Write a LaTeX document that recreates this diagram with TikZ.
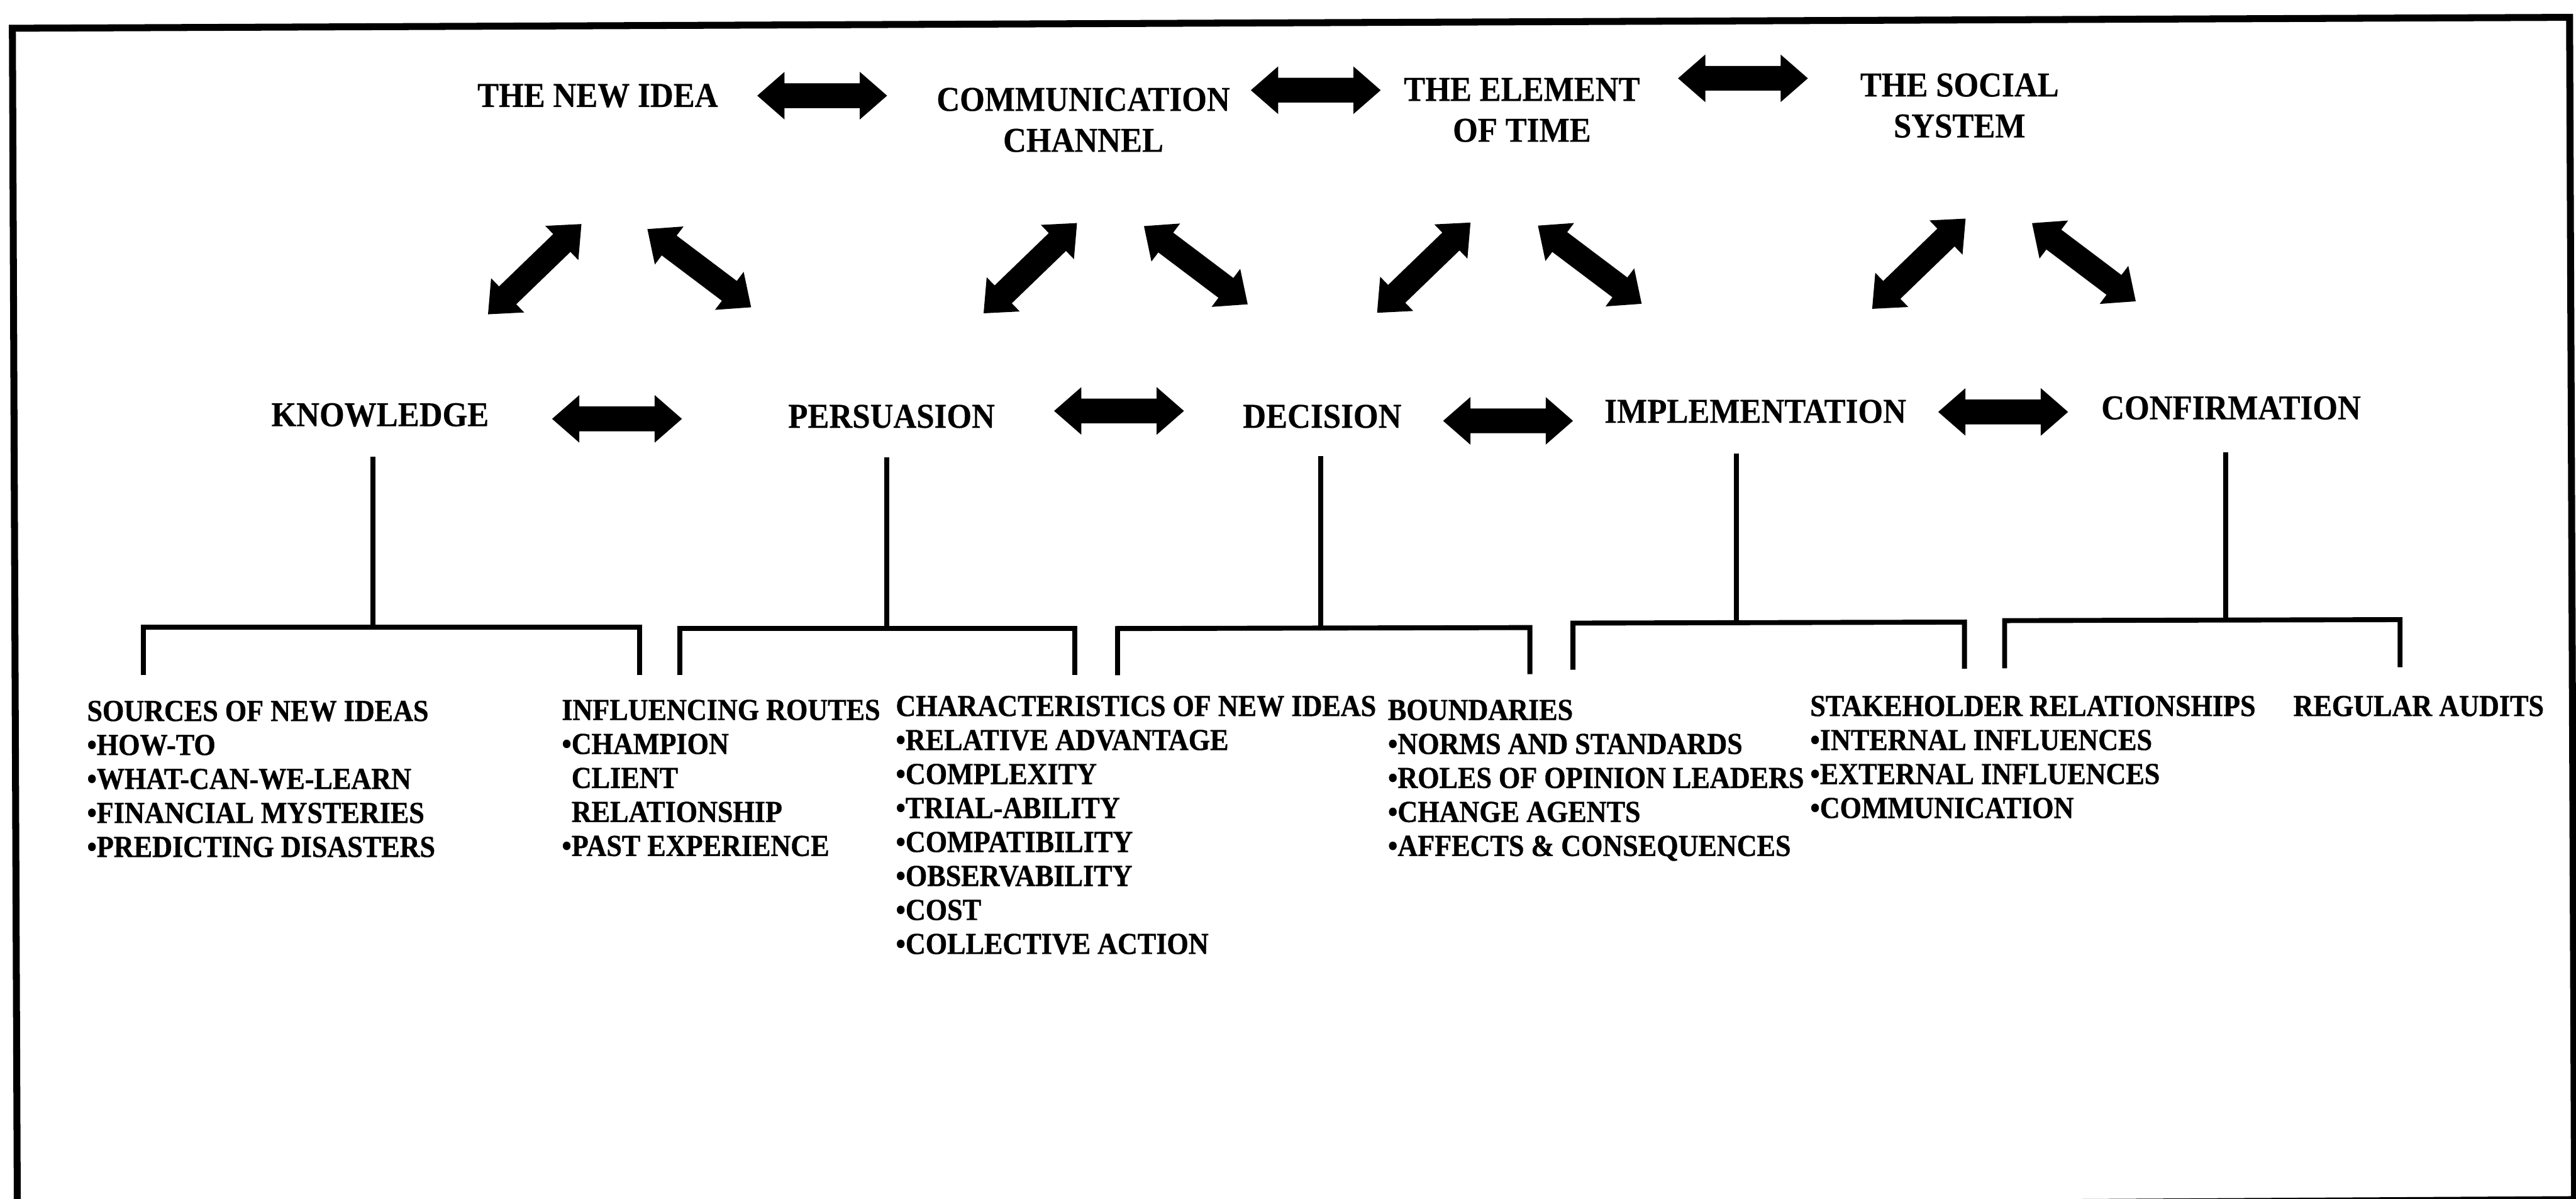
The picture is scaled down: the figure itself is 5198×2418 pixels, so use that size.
\documentclass[tikz,border=0pt]{standalone}
\usepackage{fontspec}
\setmainfont{Liberation Serif}
\newfontfamily\labelfont[FakeStretch=0.92,FakeBold=0.3]{Liberation Serif}
\newfontfamily\listfont[FakeStretch=0.91,FakeBold=0.8]{Liberation Serif}
\begin{document}
\begin{tikzpicture}[x=0.01cm,y=-0.01cm,
  stage/.style={font=\labelfont\bfseries\fontsize{20}{23.5}\selectfont, align=center, inner sep=0pt},
  itemlist/.style={font=\listfont\bfseries\fontsize{17.5}{19.5}\selectfont, align=left, anchor=north west, inner sep=0pt},
  bline/.style={line width=0.1cm, line join=miter},
  frameline/.style={line width=0.14cm, line join=miter},
  dblarrow/.pic={
    \fill[black] (-131,0) -- (-76,48) -- (-76,25) -- (76,25) -- (76,48) -- (131,0)
      -- (76,-48) -- (76,-25) -- (-76,-25) -- (-76,-48) -- cycle;
  }]
\useasboundingbox (0,0) rectangle (5198,2418);
\fill[white] (0,0) rectangle (5198,2418);

% outer frame (slightly skewed, bottom edge mostly below the page)
\draw[frameline] (25,57) -- (5185,35) -- (5195,2420) -- (35,2450) -- cycle;

% elements of diffusion
\node[stage] (newidea) at (1206,193) {THE NEW IDEA};
\node[stage] (comm)    at (2186,242) {COMMUNICATION\\CHANNEL};
\node[stage] (time)    at (3071,222) {THE ELEMENT\\OF TIME};
\node[stage] (social)  at (3954,213) {THE SOCIAL\\SYSTEM};

% stages of the decision process
\node[stage] (know) at (767,837)  {KNOWLEDGE};
\node[stage] (pers) at (1799,840) {PERSUASION};
\node[stage] (deci) at (2668,840) {DECISION};
\node[stage] (impl) at (3542,830) {IMPLEMENTATION};
\node[stage] (conf) at (4502,823) {CONFIRMATION};

% block arrows between the elements
\pic (aTop1) at (1659,193) {dblarrow};
\pic (aTop2) at (2655,182) {dblarrow};
\pic (aTop3) at (3517,158) {dblarrow};

% block arrows between the stages
\pic (aMid1) at (1245,845) {dblarrow};
\pic (aMid2) at (2258,829) {dblarrow};
\pic (aMid3) at (3043,849) {dblarrow};
\pic (aMid4) at (4042,831) {dblarrow};

% slanted block arrows under each element
\pic[rotate=44]  (dNewL)  at (1079,543) {dblarrow};
\pic[rotate=-37] (dNewR)  at (1411,541) {dblarrow};
\pic[rotate=44]  (dComL)  at (2079,541) {dblarrow};
\pic[rotate=-37] (dComR)  at (2413,535) {dblarrow};
\pic[rotate=44]  (dTimL)  at (2873,540) {dblarrow};
\pic[rotate=-37] (dTimR)  at (3208,534) {dblarrow};
\pic[rotate=44]  (dSocL)  at (3872,532) {dblarrow};
\pic[rotate=-37] (dSocR)  at (4205,529) {dblarrow};

% brackets below the stages
\coordinate (b1l) at (289,1265);  \coordinate (b1r) at (1291,1265);
\coordinate (b2l) at (1372,1268); \coordinate (b2r) at (2169,1268);
\coordinate (b3l) at (2255,1268); \coordinate (b3r) at (3087,1266);
\coordinate (b4l) at (3174,1257); \coordinate (b4r) at (3964,1255);
\coordinate (b5l) at (4045,1252); \coordinate (b5r) at (4843,1250);

\draw[bline] ([yshift=-0.96cm]b1l) -- (b1l) -- (b1r) -- ([yshift=-0.96cm]b1r);
\draw[bline] ([yshift=-0.94cm]b2l) -- (b2l) -- (b2r) -- ([yshift=-0.94cm]b2r);
\draw[bline] ([yshift=-0.94cm]b3l) -- (b3l) -- (b3r) -- ([yshift=-0.94cm]b3r);
\draw[bline] ([yshift=-0.94cm]b4l) -- (b4l) -- (b4r) -- ([yshift=-0.94cm]b4r);
\draw[bline] ([yshift=-0.96cm]b5l) -- (b5l) -- (b5r) -- ([yshift=-0.96cm]b5r);

% stems from each stage to its bracket
\coordinate (s1) at (752,921);
\coordinate (s2) at (1789,922);
\coordinate (s3) at (2665,920);
\coordinate (s4) at (3504,915);
\coordinate (s5) at (4491,912);
\draw[bline] (s1) -- (s1 |- b1l);
\draw[bline] (s2) -- (s2 |- b2l);
\draw[bline] (s3) -- (s3 |- b3l);
\draw[bline] (s4) -- (s4 |- b4l);
\draw[bline] (s5) -- (s5 |- b5l);

% item lists
\node[itemlist] (srcs) at (175,1413) {SOURCES OF NEW IDEAS\\•HOW-TO\\•WHAT-CAN-WE-LEARN\\•FINANCIAL MYSTERIES\\•PREDICTING DISASTERS};
\node[itemlist] (routes) at (1133,1411) {INFLUENCING ROUTES\\•CHAMPION\\\phantom{•}CLIENT\\\phantom{•}RELATIONSHIP\\•PAST EXPERIENCE};
\node[itemlist] (chars) at (1807,1403) {CHARACTERISTICS OF NEW IDEAS\\•RELATIVE ADVANTAGE\\•COMPLEXITY\\•TRIAL-ABILITY\\•COMPATIBILITY\\•OBSERVABILITY\\•COST\\•COLLECTIVE ACTION};
\node[itemlist] (bounds) at (2800,1411) {BOUNDARIES\\•NORMS AND STANDARDS\\•ROLES OF OPINION LEADERS\\•CHANGE AGENTS\\•AFFECTS \& CONSEQUENCES};
\node[itemlist] (stake) at (3652,1403) {STAKEHOLDER RELATIONSHIPS\\•INTERNAL INFLUENCES\\•EXTERNAL INFLUENCES\\•COMMUNICATION};
\node[itemlist] (audits) at (4627,1403) {REGULAR AUDITS};
\end{tikzpicture}
\end{document}
